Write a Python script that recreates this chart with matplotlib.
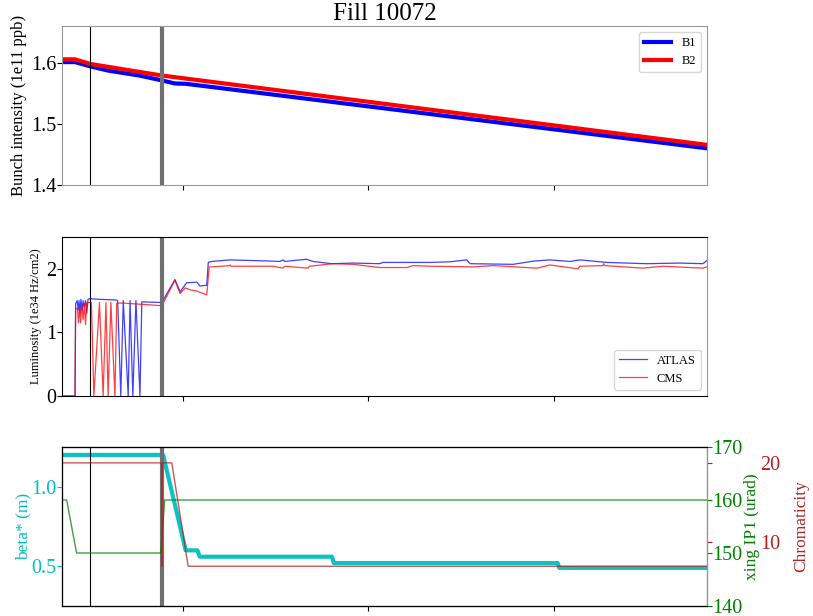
import matplotlib
matplotlib.use("Agg")
import matplotlib.pyplot as plt

plt.rcParams['font.family'] = ['Liberation Serif', 'DejaVu Serif']

title = "Fill 10072"
# time in minutes since start of plotted window
t_int = [0, 4.2, 9.1, 15.0, 25.0, 32.3, 36.5, 40.0, 208.6]
b1 = [1.601, 1.601, 1.594, 1.587, 1.579, 1.571, 1.566, 1.5655, 1.460]
t_int2 = [0, 4.2, 9.1, 20.0, 32.3, 208.6]
b2 = [1.6055, 1.6055, 1.598, 1.589, 1.579, 1.4656]

t_atlas = [0, 4.2, 4.4, 4.9, 5.2, 5.5, 5.8, 6.1, 6.5, 6.8, 7.2, 7.6, 8.0, 8.4, 9.0, 12.0, 17.5,
           18.0, 19.0, 19.8, 21.4, 22.0, 22.9, 23.9, 25.2, 25.8, 32.3, 36.5, 38.2, 40.3, 43.6,
           44.6, 46.8, 47.3, 48.4, 54.3, 68.2, 70.5, 71.5, 72.0, 79.1, 81.2, 87.2, 94.1, 102.8,
           103.8, 119.0, 125.5, 130.9, 132.0, 145.9, 152.3, 157.8, 164.3, 167.5, 176.2, 189.1,
           199.8, 207.3, 208.3, 208.6]
atlas = [0, 0, 1.45, 1.50, 1.35, 1.50, 1.30, 1.52, 1.35, 1.50, 1.40, 1.50, 1.30, 1.52, 1.53, 1.52, 1.51,
         1.50, 0.0, 1.50, 0.0, 1.50, 0.0, 1.50, 0.0, 1.48, 1.47, 1.83, 1.64, 1.78, 1.79,
         1.73, 1.74, 2.10, 2.115, 2.14, 2.12, 2.115, 2.14, 2.115, 2.15, 2.115, 2.08, 2.09, 2.08,
         2.10, 2.10, 2.11, 2.14, 2.08, 2.07, 2.12, 2.14, 2.115, 2.14, 2.10, 2.08,
         2.09, 2.08, 2.12, 2.13]

t_cms = [0, 4.2, 4.4, 5.0, 5.3, 5.7, 6.0, 6.4, 6.8, 7.2, 7.6, 8.0, 8.4, 9.5, 10.3, 12.1, 13.3,
         14.2, 14.9, 15.8, 17.1, 17.7, 20.0, 32.3, 36.5, 38.2, 39.8, 41.4, 43.6, 46.8, 47.6,
         48.8, 54.3, 54.5, 54.7, 68.2, 71.5, 72.0, 79.6, 80.0, 87.6, 94.1, 102.8, 111.6, 113.5,
         119.0, 132.9, 139.4, 153.6, 157.8, 166.9, 167.5, 175.0, 175.2, 175.5, 187.9, 194.4,
         207.3, 208.6]
cms = [0, 0, 1.37, 1.38, 1.15, 1.40, 1.15, 1.45, 1.20, 1.45, 1.12, 1.47, 1.47, 1.47, 0.0, 1.47, 0.0,
       1.47, 0.0, 1.47, 0.0, 1.46, 1.46, 1.42, 1.82, 1.61, 1.70, 1.67, 1.65, 1.59, 2.03,
       2.03, 2.05, 2.06, 2.04, 2.04, 2.01, 2.04, 2.01, 2.04, 2.08, 2.07, 2.02, 2.02, 2.05,
       2.04, 2.03, 2.05, 2.01, 2.06, 2.00, 2.04, 2.05, 2.08, 2.05, 2.01, 2.04,
       2.01, 2.03]

t_beta = [0, 32.3, 32.7, 40.0, 43.8, 44.5, 87.3, 87.9, 160.3, 160.8, 208.6]
beta = [1.2, 1.2, 1.2, 0.60, 0.60, 0.56, 0.56, 0.52, 0.52, 0.49, 0.49]

t_xing = [0, 1.5, 4.7, 31.9, 33.2, 208.6]
xing = [160, 160, 150, 150, 160, 160]

t_chroma = [0, 32.3, 32.35, 32.4, 35.5, 40.8, 208.6]
chroma = [20, 20, 7, 20, 20, 7, 7]

t_marks = [9.1, 32.3]
xticks = [39.1, 99.1, 159.1]
xlim = (0, 208.6)

fig = plt.figure(figsize=(8.13, 6.16), dpi=100)
L, W = 0.0763, 0.7933
ax1 = fig.add_axes([L, 0.6997, W, 0.2581])
ax2 = fig.add_axes([L, 0.3571, W, 0.2582])
ax3 = fig.add_axes([L, 0.0162, W, 0.2582])

TS = 14.5

# Top panel
ax1.plot(t_int, b1, color='blue', lw=3, label='B1')
ax1.plot(t_int2, b2, color='red', lw=3, label='B2')
ax1.set_ylim(1.4, 1.66)
ax1.set_yticks([1.4, 1.5, 1.6])
ax1.set_ylabel('Bunch intensity (1e11 ppb)', fontsize=12)
ax1.yaxis.set_label_coords(-0.054, 0.5)
ax1.legend(loc='upper right', fontsize=9, handlelength=2.2)
ax1.set_title(title, fontsize=18, pad=4)

# Middle panel
ax2.plot(t_atlas, atlas, color='blue', lw=0.9, alpha=0.75, label='ATLAS')
ax2.plot(t_cms, cms, color='red', lw=0.9, alpha=0.75, label='CMS')
ax2.set_ylim(0, 2.5)
ax2.set_yticks([0, 1, 2])
ax2.set_ylabel('Luminosity (1e34 Hz/cm2)', fontsize=9)
ax2.yaxis.set_label_coords(-0.0315, 0.5)
ax2.legend(loc='lower right', fontsize=9, handlelength=2.2)

# Bottom panel
ax3.plot(t_beta, beta, color='c', lw=3, alpha=0.95)
ax3.set_ylim(0.25, 1.25)
ax3.set_yticks([0.5, 1.0])
ax3.set_ylabel('beta* (m)', color='c', fontsize=12.5)
ax3.yaxis.set_label_coords(-0.047, 0.5)
ax3.tick_params(axis='y', colors='c')

ax3b = ax3.twinx()
ax3b.plot(t_xing, xing, color='green', lw=1, alpha=0.75)
ax3b.set_ylim(140, 170)
ax3b.set_yticks([140, 150, 160, 170])
ax3b.tick_params(axis='y', colors='green', labelsize=TS, pad=0)
ax3b.set_ylabel('xing IP1 (urad)', color='green', fontsize=12.5)
ax3b.yaxis.set_label_coords(1.057, 0.5)

ax3c = ax3.twinx()
ax3c.plot(t_chroma, chroma, color='firebrick', lw=1, alpha=0.75)
ax3c.set_ylim(2, 22)
ax3c.set_yticks([10, 20])
ax3c.tick_params(axis='y', colors='firebrick', labelsize=TS, pad=34.5)
ax3c.set_ylabel('Chromaticity', color='firebrick', fontsize=12.5)
ax3c.yaxis.set_label_coords(1.134, 0.5)
for a in (ax3b, ax3c):
    a.set_xlim(*xlim)
    a.spines['right'].set_color('#999999')

for a in (ax1, ax2, ax3):
    a.set_xlim(*xlim)
    a.set_xticks(xticks)
    a.set_xticklabels([])
    a.tick_params(axis='y', labelsize=TS, pad=0.5)
    a.axvline(t_marks[0], color='black', lw=0.8)
    a.axvline(t_marks[1], color='#707070', lw=3)

for sp in ax1.spines.values():
    sp.set_color('#999999')
ax2.spines['right'].set_color('#999999')

fig.savefig('out.png', dpi=100)
